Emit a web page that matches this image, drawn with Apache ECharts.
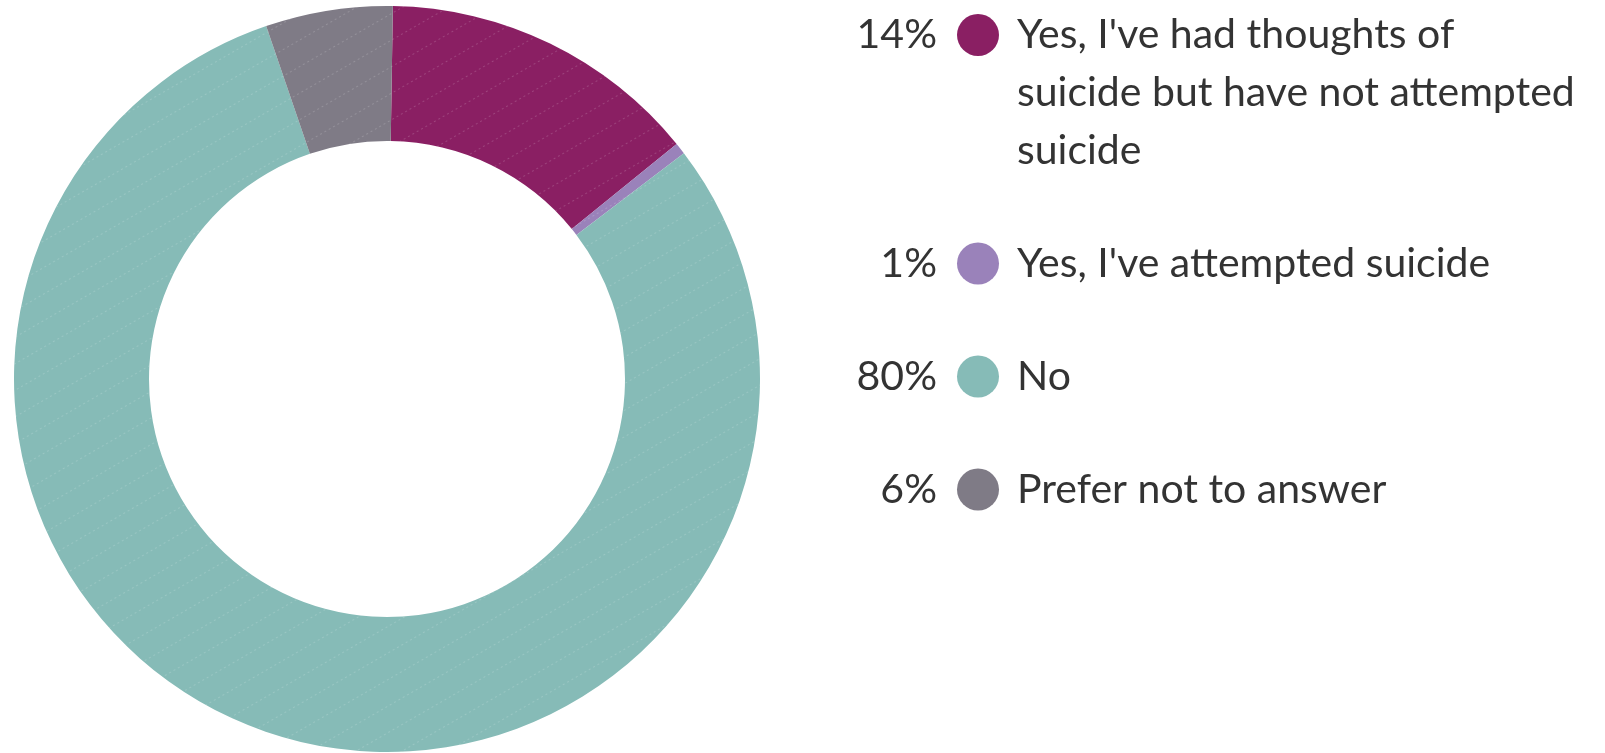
<!DOCTYPE html>
<html>
<head>
<meta charset="utf-8">
<script src="https://cdn.jsdelivr.net/npm/echarts@6/dist/echarts.min.js"></script>
<style>
  html, body { margin: 0; padding: 0; background: #ffffff; }
  #chart { width: 1605px; height: 753px; }
</style>
</head>
<body>
<div id="chart"></div>
<script>
// ---- Data ----
const categories = [
  "Yes, I've had thoughts of suicide but have not attempted suicide",
  "Yes, I've attempted suicide",
  "No",
  "Prefer not to answer"
];
const values = [13.9, 0.5, 80.1, 5.5];
const colors = ['#8a1f63', '#9a82ba', '#86bbb7', '#7f7b86'];

// ---- Layout helpers ----
const FONT_FAMILY = 'Lato, "Open Sans", sans-serif';
const FONT_SIZE = 41;
const LINE_H = 58;
const MAX_TEXT_W = 570;

const total = Math.round(values.reduce((a, b) => a + b, 0) * 1000) / 1000;

const measureCtx = document.createElement('canvas').getContext('2d');
measureCtx.font = FONT_SIZE + 'px ' + FONT_FAMILY;
function wrap(text) {
  const words = text.split(' ');
  const lines = [];
  let cur = '';
  words.forEach(w => {
    const test = cur ? cur + ' ' + w : w;
    if (cur && measureCtx.measureText(test).width > MAX_TEXT_W) {
      lines.push(cur);
      cur = w;
    } else {
      cur = test;
    }
  });
  if (cur) lines.push(cur);
  return lines;
}

const PCT_W = 94, GAP1 = 20, DOT = 42, GAP2 = 18;
const rich = {
  pct: { fontSize: FONT_SIZE, fontFamily: FONT_FAMILY, color: '#333333', lineHeight: LINE_H },
  g1: { width: GAP1, lineHeight: LINE_H },
  g2: { width: GAP2, lineHeight: LINE_H },
  sp: { width: PCT_W + GAP1 + DOT + GAP2, lineHeight: LINE_H },
  name: { fontSize: FONT_SIZE, fontFamily: FONT_FAMILY, color: '#333333', lineHeight: LINE_H }
};
colors.forEach((c, i) => {
  rich['dot' + i] = { width: DOT, height: DOT, borderRadius: DOT / 2, backgroundColor: c, lineHeight: LINE_H };
});
// spacer tokens so that each percentage is right-aligned in its column
const pctLabels = values.map(v => Math.round(v * 100 / total) + '%');
pctLabels.forEach((p, i) => {
  rich['pre' + i] = { width: Math.max(1, PCT_W - measureCtx.measureText(p).width), lineHeight: LINE_H };
});

const chart = echarts.init(document.getElementById('chart'), null, { renderer: 'canvas' });
chart.setOption({
  animation: false,
  backgroundColor: '#ffffff',
  color: colors,
  legend: {
    orient: 'vertical',
    left: 838,
    top: 14,
    padding: 0,
    icon: 'none',
    itemWidth: 0,
    itemHeight: 0,
    itemGap: 71,
    selectedMode: false,
    data: categories,
    textStyle: { rich: rich, fontFamily: FONT_FAMILY, fontSize: FONT_SIZE, color: '#333333' },
    formatter: function (name) {
      const i = categories.indexOf(name);
      const lines = wrap(name);
      let s = '{pre' + i + '| }{pct|' + pctLabels[i] + '}{g1| }{dot' + i + '| }{g2| }{name|' + lines[0] + '}';
      for (let k = 1; k < lines.length; k++) {
        s += '\n{sp| }{name|' + lines[k] + '}';
      }
      return s;
    }
  },
  series: [{
    type: 'pie',
    center: [387, 379],
    radius: [238, 373],
    startAngle: 89.1,
    clockwise: true,
    avoidLabelOverlap: false,
    label: { show: false },
    labelLine: { show: false },
    emphasis: { disabled: true },
    itemStyle: {
      borderWidth: 0,
      decal: {
        symbol: 'rect',
        symbolSize: 1,
        color: 'rgba(255,255,255,0.16)',
        dashArrayX: [2, 3],
        dashArrayY: [1, 22],
        rotation: -Math.PI / 6
      }
    },
    data: categories.map((c, i) => ({ name: c, value: values[i] }))
  }]
});
</script>
</body>
</html>
